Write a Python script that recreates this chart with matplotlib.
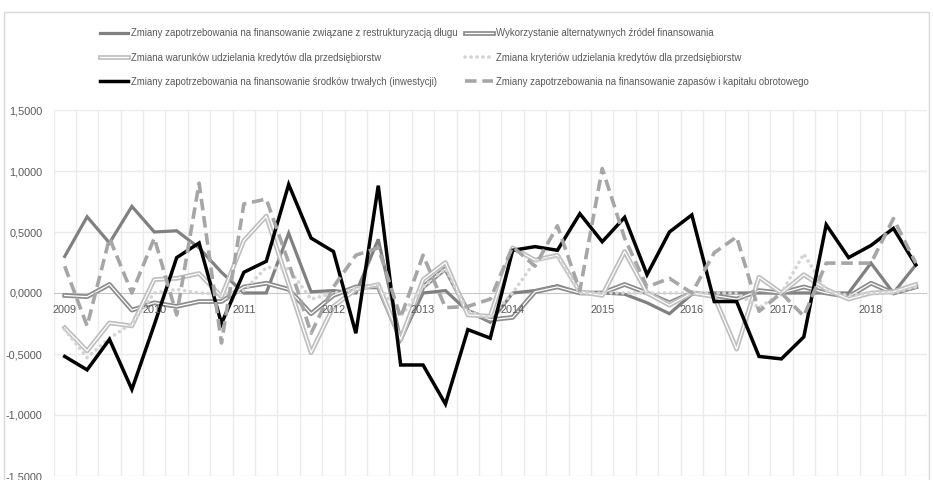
import numpy as np
import matplotlib
matplotlib.use("Agg")
import matplotlib.pyplot as plt
import matplotlib.patheffects as pe
from matplotlib.ticker import FuncFormatter, MultipleLocator
from matplotlib.patches import Rectangle

plt.rcParams['font.family'] = ['Liberation Sans', 'DejaVu Sans']

# quarterly observations 2009 Q1 .. 2018 Q3
years = list(range(2009, 2019))
n_quarters = 39

restrukturyzacja = [0.30, 0.625, 0.41, 0.71, 0.50, 0.51, 0.37, 0.17, 0.0, 0.0,
                    0.49, 0.01, 0.02, 0.0, 0.44, -0.38, 0.0, 0.02, -0.15, -0.24,
                    0.0, 0.02, 0.06, 0.0, 0.0, -0.01, -0.08, -0.17, -0.01, 0.0,
                    0.0, 0.0, 0.0, 0.0, 0.0, 0.0, 0.245, 0.0, 0.23]
alternatywne = [-0.02, -0.03, 0.07, -0.14, -0.08, -0.11, -0.07, -0.07, 0.05, 0.08,
                0.03, -0.17, -0.02, 0.05, 0.05, -0.38, 0.05, 0.20, -0.15, -0.22,
                -0.20, 0.01, 0.05, 0.0, 0.0, 0.07, 0.0, -0.08, 0.0, -0.02,
                -0.05, 0.02, 0.0, 0.05, 0.0, -0.03, 0.08, 0.0, 0.05]
warunki = [-0.285, -0.475, -0.245, -0.27, 0.11, 0.12, 0.16, -0.03, 0.43, 0.63,
           0.07, -0.49, -0.11, 0.03, 0.07, -0.38, 0.11, 0.25, -0.18, -0.19,
           0.37, 0.27, 0.31, 0.01, -0.02, 0.34, 0.0, -0.10, 0.0, -0.03,
           -0.46, 0.13, 0.0, 0.15, 0.03, -0.05, 0.0, 0.01, 0.07]
kryteria = [-0.30, -0.53, -0.37, -0.25, 0.0, 0.03, 0.0, -0.01, 0.02, 0.21,
            0.20, -0.05, 0.0, 0.03, 0.07, -0.19, 0.05, 0.20, -0.15, -0.20,
            0.0, 0.26, 0.30, 0.0, 0.0, 0.0, 0.0, 0.0, 0.0, 0.0,
            0.0, -0.12, 0.0, 0.32, 0.02, -0.02, 0.0, 0.0, 0.05]
inwestycje = [-0.52, -0.63, -0.38, -0.79, -0.26, 0.29, 0.41, -0.25, 0.17, 0.26,
              0.89, 0.45, 0.34, -0.33, 0.88, -0.59, -0.59, -0.91, -0.30, -0.37,
              0.35, 0.38, 0.35, 0.65, 0.42, 0.62, 0.15, 0.50, 0.64, -0.07,
              -0.07, -0.52, -0.54, -0.36, 0.56, 0.29, 0.39, 0.53, 0.23]
zapasy = [0.22, -0.27, 0.45, 0.0, 0.45, -0.18, 0.90, -0.41, 0.73, 0.77,
          0.25, -0.33, 0.05, 0.31, 0.37, -0.20, 0.31, -0.12, -0.11, -0.05,
          0.38, 0.22, 0.55, 0.02, 1.02, 0.45, 0.05, 0.12, 0.0, 0.33,
          0.46, -0.15, 0.0, -0.19, 0.245, 0.245, 0.245, 0.61, 0.245]

labels = [
    "Zmiany zapotrzebowania na finansowanie związane z restrukturyzacją długu",
    "Wykorzystanie alternatywnych źródeł finansowania",
    "Zmiana warunków udzielania kredytów dla przedsiębiorstw",
    "Zmiana kryteriów udzielania kredytów dla przedsiębiorstw",
    "Zmiany zapotrzebowania na finansowanie środków trwałych (inwestycji)",
    "Zmiany zapotrzebowania na finansowanie zapasów i kapitału obrotowego",
]

text_color = '#595959'
x = np.arange(n_quarters)

fig = plt.figure(figsize=(9.33, 4.8), dpi=100)
ax = fig.add_axes([53.5 / 933, 4 / 480, (927 - 53.5) / 933, 366 / 480])

# outer chart border
fig.patches.append(Rectangle((4 / 933, -0.05), 925 / 933, 1.05 - 12 / 480,
                             transform=fig.transFigure, fill=False,
                             edgecolor='#d9d9d9', lw=1.0))

# grid: horizontal every 0.5, vertical between quarters
for v in np.arange(-1.5, 1.51, 0.5):
    if abs(v) > 1e-9:
        ax.axhline(v, color='#ebebeb', lw=1.0, zorder=0)
for k in range(n_quarters + 1):
    ax.axvline(k - 0.5, color='#ebebeb', lw=1.0, zorder=0)
ax.axhline(0, color='#c8c8c8', lw=0.8, zorder=0.5)

def double(color):
    return [pe.Stroke(linewidth=3.4, foreground=color), pe.Normal()]

l1, = ax.plot(x, restrukturyzacja, color='#808080', lw=2.3,
              solid_joinstyle='miter', label=labels[0])
l2, = ax.plot(x, alternatywne, color='white', lw=0.9,
              path_effects=double('#8c8c8c'), label=labels[1])
l3, = ax.plot(x, warunki, color='white', lw=0.9,
              path_effects=double('#bfbfbf'), label=labels[2])
l4, = ax.plot(x, kryteria, color='#d4d4d4', lw=2.6, linestyle=(0, (0.05, 1.6)),
              dash_capstyle='round', label=labels[3])
l5, = ax.plot(x, inwestycje, color='black', lw=2.5,
              solid_joinstyle='miter', label=labels[4])
l6, = ax.plot(x, zapasy, color='#a6a6a6', lw=2.6, linestyle=(0, (3.2, 1.6)),
              label=labels[5])

ax.set_xlim(-0.5, n_quarters - 0.5)
ax.set_ylim(-1.5, 1.5)
ax.yaxis.set_major_locator(MultipleLocator(0.5))
ax.yaxis.set_major_formatter(FuncFormatter(lambda v, p: f"{v:.4f}".replace('.', ',')))
ax.tick_params(axis='y', length=0, pad=8, labelsize=7.8, labelcolor=text_color)
ax.set_xticks([])
for s in ax.spines.values():
    s.set_visible(False)

# year labels sit just under the zero line
for j, yr in enumerate(years):
    ax.annotate(str(yr), (4 * j, 0), xytext=(0, -12), textcoords='offset points',
                ha='center', va='center', fontsize=7.8, color=text_color)

handles = [l1, l3, l5, l2, l4, l6]
fig.legend(handles, [h.get_label() for h in handles], ncol=2,
           loc='upper left', bbox_to_anchor=(100 / 933, 1 - 28.5 / 480),
           frameon=False, fontsize=6.9, labelcolor=text_color,
           handlelength=2.9, handletextpad=0.3, labelspacing=1.47,
           columnspacing=0.8, borderpad=0, borderaxespad=0)

fig.savefig('out.png', dpi=100)
